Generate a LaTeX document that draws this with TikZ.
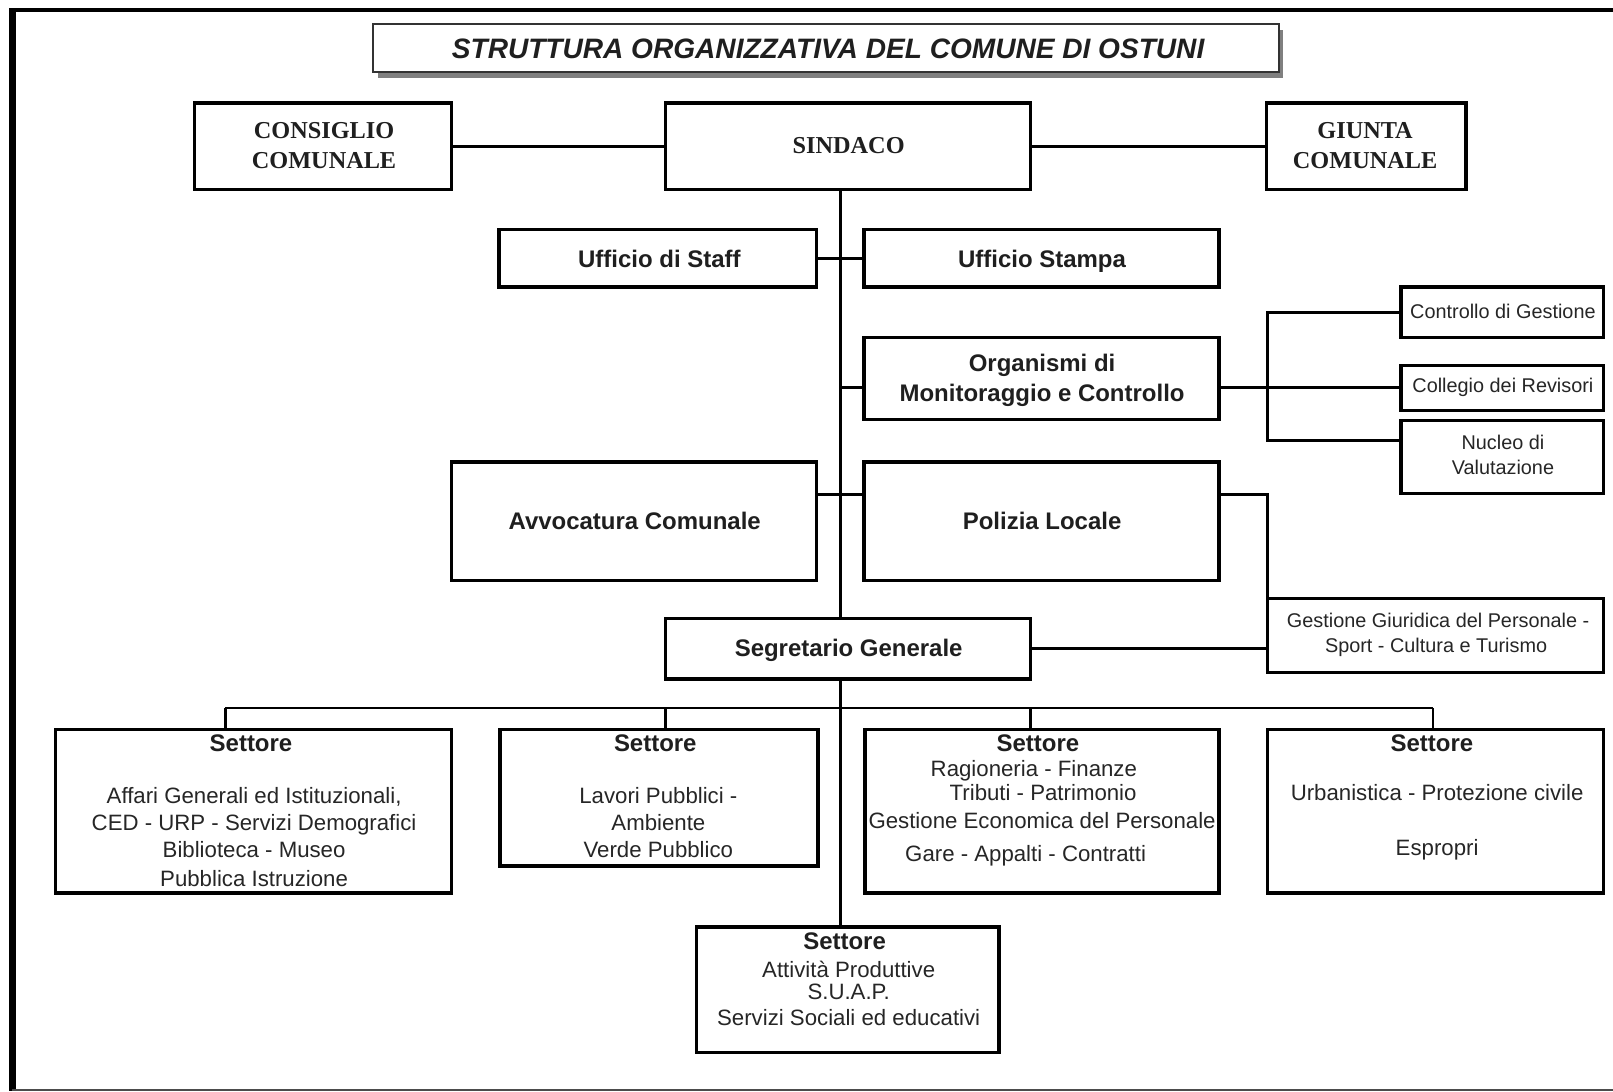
\documentclass[tikz,border=0pt]{standalone}
\usepackage{fontspec}
\setmainfont{Liberation Sans}
\newfontfamily\serifbf{Liberation Serif}
\usetikzlibrary{fit}
\begin{document}
\begin{tikzpicture}[x=0.5pt,y=-0.5pt,
  box/.style={draw=black, line width=1.65pt, inner sep=0pt, outer sep=0pt, fill=white},
  conn/.style={line width=1.5pt, black},
  bus/.style={line width=1pt, black},
  drop/.style={line width=1.25pt, black},
  tb/.style={font=\fontsize{11.65}{14}\selectfont\bfseries, text=black!88, inner sep=0pt, anchor=base},
  tr/.style={font=\fontsize{10.8}{13}\selectfont, text=black!85, inner sep=0pt, anchor=base},
  ts/.style={font=\fontsize{9.65}{12}\selectfont, text=black!85, inner sep=0pt, anchor=base},
  tser/.style={font=\serifbf\fontsize{11.8}{14}\selectfont\bfseries, text=black!88, inner sep=0pt, anchor=base},
  ttitle/.style={font=\fontsize{13.65}{16}\selectfont\bfseries\itshape, text=black!88, inner sep=0pt, anchor=base}]
\useasboundingbox (0,0) rectangle (1568,1061);
% outer frame
\draw[line width=2pt] (9,10) -- (1568,10);
\draw[line width=3.5pt] (12.5,8) -- (12.5,1061);
\draw[black!70, line width=1pt] (12,1060) -- (1568,1060);
% title
\fill[black!50] (367,29) rectangle (1247,76);
\node[box, draw=black!80, line width=1pt, fit={(363,23)(1243,70)}] (title) {};
\node[ttitle] (title-t) at (805,57) {STRUTTURA ORGANIZZATIVA DEL COMUNE DI OSTUNI};
% boxes
\node[box, fit={(189,100)(439,184)}] (cons) {};
\node[box, fit={(647,100)(1002,184)}] (sind) {};
\node[box, fit={(1231,100)(1425,184)}] (giunta) {};
\node[box, fit={(485,223)(794,279)}] (staff) {};
\node[box, fit={(840,223)(1185,279)}] (stampa) {};
\node[box, fit={(840,328)(1185,408)}] (org) {};
\node[box, fit={(1362,279)(1559,328)}] (ctrl) {};
\node[box, fit={(1362,355)(1559,399)}] (coll) {};
\node[box, fit={(1362,409)(1559,480)}] (nucleo) {};
\node[box, fit={(439,449)(794,564)}] (avv) {};
\node[box, fit={(840,449)(1185,564)}] (pol) {};
\node[box, fit={(647,601)(1002,660)}] (segr) {};
\node[box, fit={(1232,582)(1559,654)}] (gest) {};
\node[box, fit={(54,709)(439,868)}] (s1) {};
\node[box, fit={(486,709)(795,842)}] (s2) {};
\node[box, fit={(841,709)(1185,868)}] (s3) {};
\node[box, fit={(1232,709)(1559,868)}] (s4) {};
\node[box, fit={(677,901)(971,1023)}] (s5) {};
% texts
\node[tser] (cons-t1) at (315,135) {CONSIGLIO};
\node[tser] (cons-t2) at (315,164) {COMUNALE};
\node[tser] (sind-t) at (825,149) {SINDACO};
\node[tser] (giunta-t1) at (1327,135) {GIUNTA};
\node[tser] (giunta-t2) at (1327,164) {COMUNALE};
\node[tb] (staff-t) at (641,260) {Ufficio di Staff};
\node[tb] (stampa-t) at (1013,260) {Ufficio Stampa};
\node[tb] (org-t1) at (1013,361) {Organismi di};
\node[tb] (org-t2) at (1013,390) {Monitoraggio e Controllo};
\node[tb] (avv-t) at (617,515) {Avvocatura Comunale};
\node[tb] (pol-t) at (1013,515) {Polizia Locale};
\node[tb] (segr-t) at (825,638) {Segretario Generale};
\node[ts] (ctrl-t) at (1461,310) {Controllo di Gestione};
\node[ts] (coll-t) at (1461,382) {Collegio dei Revisori};
\node[ts] (nucleo-t1) at (1461,437) {Nucleo di};
\node[ts] (nucleo-t2) at (1461,461) {Valutazione};
\node[ts] (gest-t1) at (1398,610) {Gestione Giuridica del Personale -};
\node[ts] (gest-t2) at (1396,634) {Sport - Cultura e Turismo};
\node[tb] (s1-h) at (244,731) {Settore};
\node[tr] (s1-t1) at (247,781) {Affari Generali ed Istituzionali,};
\node[tr] (s1-t2) at (247,807) {CED - URP - Servizi Demografici};
\node[tr] (s1-t3) at (247,834) {Biblioteca - Museo};
\node[tr] (s1-t4) at (247,862) {Pubblica Istruzione};
\node[tb] (s2-h) at (637,731) {Settore};
\node[tr] (s2-t1) at (640,781) {Lavori Pubblici -};
\node[tr] (s2-t2) at (640,807) {Ambiente};
\node[tr] (s2-t3) at (640,834) {Verde Pubblico};
\node[tb] (s3-h) at (1009,731) {Settore};
\node[tr] (s3-t1) at (1005,755) {Ragioneria - Finanze};
\node[tr] (s3-t2) at (1014,778) {Tributi - Patrimonio};
\node[tr] (s3-t3) at (1013,805) {Gestione Economica del Personale};
\node[tr] (s3-t4) at (997,837) {Gare - Appalti - Contratti};
\node[tb] (s4-h) at (1392,731) {Settore};
\node[tr] (s4-t1) at (1397,778) {Urbanistica - Protezione civile};
\node[tr] (s4-t2) at (1397,832) {Espropri};
\node[tb] (s5-h) at (821,923) {Settore};
\node[tr] (s5-t1) at (825,950) {Attività Produttive};
\node[tr] (s5-t2) at (825,972) {S.U.A.P.};
\node[tr] (s5-t3) at (825,997) {Servizi Sociali ed educativi};
% helper coordinates
\coordinate (spine) at (817,0);
\coordinate (orgy) at (0,377);
\coordinate (poly) at (0,481);
\coordinate (nuy) at (0,428);
\coordinate (brk) at (1232,0);
\coordinate (busy) at (0,688);
\coordinate (d1) at (219,0);
\coordinate (d2) at (647,0);
\coordinate (d3) at (1002,0);
\coordinate (d4) at (1393,0);
% connectors
\draw[conn] (cons) -- (sind);
\draw[conn] (sind) -- (giunta);
\draw[conn] (sind.south -| spine) -- (segr.north -| spine);
\draw[conn] (segr.south -| spine) -- (s5.north -| spine);
\draw[conn] (staff) -- (stampa);
\draw[conn] (spine |- orgy) -- (org.west |- orgy);
\draw[conn] (org.east |- orgy) -- (coll.west |- orgy);
\draw[conn] (ctrl.west) -- (ctrl.west -| brk) -- (brk |- nuy) -- (nucleo.west |- nuy);
\draw[conn] (avv.east |- poly) -- (pol.west |- poly);
\draw[conn] (pol.east |- poly) -- (brk |- poly) -- (gest.north west);
\draw[conn] (segr.east) -- (segr.east -| gest.west);
\draw[bus] (d1 |- busy) -- (d4 |- busy);
\draw[drop] (d1 |- busy) -- (d1 |- s1.north);
\draw[drop] (d2 |- busy) -- (d2 |- s2.north);
\draw[drop] (d3 |- busy) -- (d3 |- s3.north);
\draw[drop] (d4 |- busy) -- (d4 |- s4.north);
\end{tikzpicture}
\end{document}
